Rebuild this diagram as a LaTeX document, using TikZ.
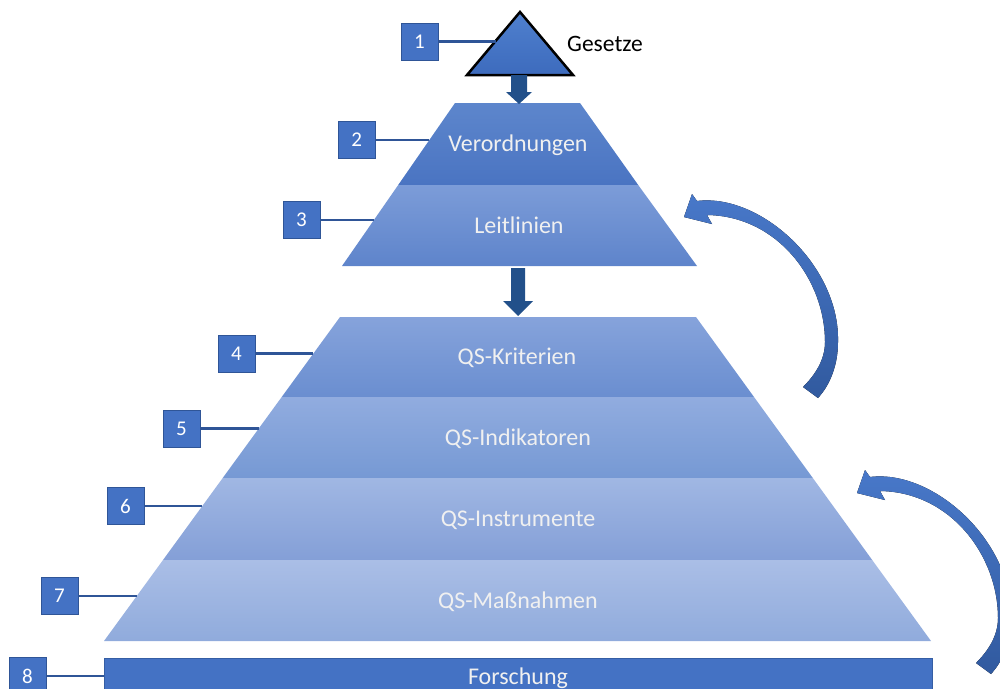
\documentclass[tikz,border=0pt]{standalone}
\usepackage{fontspec}
\setmainfont{Carlito}
\usetikzlibrary{calc}
\definecolor{boxblue}{HTML}{4472C4}
\definecolor{linkblue}{HTML}{2F5597}
\definecolor{darkarrow}{HTML}{22508A}
\definecolor{arrowtop}{HTML}{4878C9}
\definecolor{arrowbottom}{HTML}{315A9F}
\definecolor{vTop}{HTML}{5D86CC}\definecolor{vBot}{HTML}{4A74C2}
\definecolor{lTop}{HTML}{7C9CD8}\definecolor{lBot}{HTML}{5E84CB}
\definecolor{kTop}{HTML}{86A3DB}\definecolor{kBot}{HTML}{6A8ED0}
\definecolor{iTop}{HTML}{91ACDF}\definecolor{iBot}{HTML}{7699D4}
\definecolor{sTop}{HTML}{A0B7E3}\definecolor{sBot}{HTML}{849FD7}
\definecolor{mTop}{HTML}{AABEE6}\definecolor{mBot}{HTML}{90ABDC}
\definecolor{triTop}{HTML}{4F80CE}\definecolor{triBot}{HTML}{3D6BBD}
\begin{document}
\begin{tikzpicture}[x=1pt,y=-1pt,
  bandtext/.style={text=white!94!black, font=\fontsize{24}{28}\selectfont, inner sep=0pt, anchor=base},
  numbox/.style={fill=boxblue, draw=linkblue, line width=0.8pt, minimum width=37pt, minimum height=37pt, inner sep=0pt, text=white, font=\fontsize{21}{25}\selectfont},
  link/.style={draw=linkblue, line width=2.7pt},
  downarrow/.style={fill=darkarrow},
  curvearrow/.style={top color=arrowtop, bottom color=arrowbottom}
]
\useasboundingbox (0,0) rectangle (1000,688);
\begin{scope}
\clip (0,0) rectangle (1000,688);

% upper pyramid
\path[top color=vTop, bottom color=vBot] (455,103) -- (580,103) -- (638.2,185) -- (398.2,185) -- cycle;
\path[top color=lTop, bottom color=lBot] (398.2,185) -- (638.2,185) -- (697,266) -- (342,266) -- cycle;
% lower pyramid
\path[top color=kTop, bottom color=kBot] (340,317) -- (696,317) -- (754,397) -- (281.7,397) -- cycle;
\path[top color=iTop, bottom color=iBot] (281.7,397) -- (754,397) -- (812.8,478) -- (222.7,478) -- cycle;
\path[top color=sTop, bottom color=sBot] (222.7,478) -- (812.8,478) -- (872.2,560) -- (163,560) -- cycle;
\path[top color=mTop, bottom color=mBot] (163,560) -- (872.2,560) -- (931,641) -- (104,641) -- cycle;
% research bar
\path[fill=boxblue, draw=linkblue!70!boxblue, line width=0.6pt] (104,658) rectangle (932,705);

% band texts
\node[bandtext] (verordnungen) at (518,151.8) {Verordnungen};
\node[bandtext] (leitlinien) at (519,233.3) {Leitlinien};
\node[bandtext] (kriterien) at (517,364.8) {QS-Kriterien};
\node[bandtext] (indikatoren) at (518,445.3) {QS-Indikatoren};
\node[bandtext] (instrumente) at (518,526.8) {QS-Instrumente};
\node[bandtext] (massnahmen) at (518,608.3) {QS-Maßnahmen};
\node[bandtext] (forschung) at (518,684.3) {Forschung};

% top triangle
\draw[line width=2.5pt, line join=miter, top color=triTop, bottom color=triBot] (520,12) -- (573,75) -- (467,75) -- cycle;
\node[anchor=base west, inner sep=0pt, font=\fontsize{23.5}{28}\selectfont, text=black] (gesetze) at (567,51.5) {Gesetze};

% down arrows
\coordinate (a1s) at (519,75);
\coordinate (a1e) at (519,104);
\fill[downarrow] ($(a1s)+(-8,0)$) -- ($(a1s)+(8,0)$) -- ($(a1e)+(8,-12)$) -- ($(a1e)+(13,-12)$) -- (a1e) -- ($(a1e)+(-13,-12)$) -- ($(a1e)+(-8,-12)$) -- cycle;
\coordinate (a2s) at (518,268);
\coordinate (a2e) at (518,316);
\fill[downarrow] ($(a2s)+(-7,0)$) -- ($(a2s)+(7,0)$) -- ($(a2e)+(7,-15)$) -- ($(a2e)+(15,-15)$) -- (a2e) -- ($(a2e)+(-15,-15)$) -- ($(a2e)+(-7,-15)$) -- cycle;

% curved arrows
\fill[curvearrow] (684,217) -- (692,194) -- (697,201) .. controls (760,193) and (840,265) .. (838,342) .. controls (838,365) and (830,385) .. (818,398) -- (803,387) .. controls (815,375) and (825,360) .. (825,342) .. controls (825,280) and (778,216) .. (707,215) -- (712,224) -- cycle;
\begin{scope}[shift={(173,276)}]
\fill[curvearrow] (684,217) -- (692,194) -- (697,201) .. controls (760,193) and (840,265) .. (838,342) .. controls (838,365) and (830,385) .. (818,398) -- (803,387) .. controls (815,375) and (825,360) .. (825,342) .. controls (825,280) and (778,216) .. (707,215) -- (712,224) -- cycle;
\end{scope}

% number boxes and their links
\node[numbox] (n1) at (419.5,41.5) {1};
\node[numbox] (n2) at (356.7,140) {2};
\node[numbox] (n3) at (301.5,220) {3};
\node[numbox] (n4) at (236.5,353.5) {4};
\node[numbox] (n5) at (181.5,428.5) {5};
\node[numbox] (n6) at (125.5,506) {6};
\node[numbox] (n7) at (59.5,596) {7};
\node[numbox] (n8) at (27.5,676) {8};
\coordinate (t1) at (495.6,41.5);
\coordinate (t2) at (429.4,140);
\coordinate (t3) at (373.9,220);
\coordinate (t4) at (313.4,353.5);
\coordinate (t5) at (258.8,428.5);
\coordinate (t6) at (202.3,506);
\coordinate (t7) at (136.8,596);
\coordinate (t8) at (104,676);
\foreach \i in {1,...,8} { \draw[link] (n\i.east) -- (t\i); }
\end{scope}
\end{tikzpicture}
\end{document}
